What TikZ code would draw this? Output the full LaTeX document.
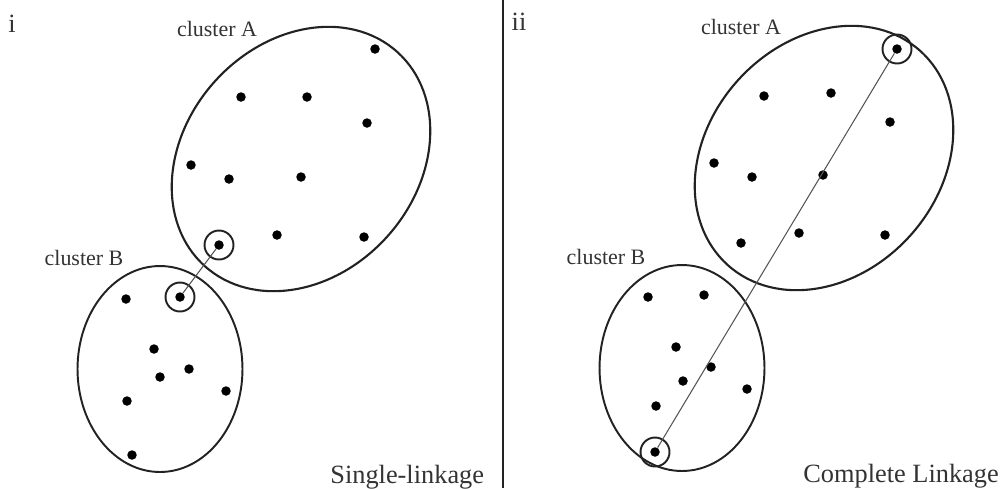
\documentclass[tikz,border=0pt]{standalone}
\usepackage{fontspec}
\setmainfont{Liberation Serif}
\usetikzlibrary{shapes.geometric}
\definecolor{inkgray}{HTML}{222222}
\definecolor{linkgray}{HTML}{555555}
\definecolor{textgray}{HTML}{333333}
\tikzset{
  dotnode/.style={
    circle, fill=black, inner sep=0pt, minimum size=0.19cm
  },
  ringnode/.style={
    circle, draw=inkgray, line width=1.1pt, inner sep=0pt,
    minimum size=0.58cm
  },
  clusterA/.style={
    ellipse, draw=inkgray, line width=1.2pt, inner sep=0pt,
    minimum width=5.76cm, minimum height=4.64cm, rotate=48
  },
  clusterB/.style={
    ellipse, draw=inkgray, line width=1.1pt, inner sep=0pt,
    minimum width=3.3cm, minimum height=4.12cm
  },
  clusterlabel/.style={
    font=\fontsize{12.5}{14}\selectfont, text=textgray, inner sep=0pt
  },
  methodlabel/.style={
    font=\fontsize{15}{18}\selectfont, text=textgray, inner sep=0pt,
    anchor=base west
  },
  panellabel/.style={
    font=\fontsize{15}{18}\selectfont, text=textgray, inner sep=0pt
  },
  linkline/.style={line width=0.6pt, draw=linkgray},
}

\begin{document}
\begin{tikzpicture}[x=0.02cm, y=-0.02cm]
  \useasboundingbox (0,0) rectangle (1003,488);

  % Panel i: single linkage
  \node[panellabel] (numi) at (12,24) {i};
  \node[clusterA] (sA) at (301,159) {};
  \node[clusterB] (sB) at (160,369) {};
  \node[clusterlabel] (sAlab) at (217,29) {cluster A};
  \node[clusterlabel] (sBlab) at (84,258) {cluster B};
  \foreach \n/\x/\y in {sa0/219/245, sa1/375/49, sa2/241/97, sa3/307/97,
      sa4/367/123, sa5/191/165, sa6/229/179, sa7/301/177, sa8/277/235,
      sa9/364/237}
    \node[dotnode] (\n) at (\x,\y) {};
  \foreach \n/\x/\y in {sb0/180/297, sb1/126/299, sb2/154/349, sb3/189/369,
      sb4/160/377, sb5/226/391, sb6/127/401, sb7/132/455}
    \node[dotnode] (\n) at (\x,\y) {};
  \node[ringnode] (saring) at (sa0) {};
  \node[ringnode] (sbring) at (sb0) {};
  \draw[linkline] (sa0) -- (sb0);
  \node[methodlabel] (single) at (330,483) {Single-linkage};

  % Divider
  \coordinate (divtop) at (503,0);
  \coordinate (divbot) at (503,488);
  \draw[line width=1.4pt, inkgray] (divtop) -- (divbot);

  % Panel ii: complete linkage
  \node[panellabel] (numii) at (519,22) {ii};
  \node[clusterA] (cA) at (824,158) {};
  \node[clusterB] (cB) at (682,368) {};
  \node[clusterlabel] (cAlab) at (741,27) {cluster A};
  \node[clusterlabel] (cBlab) at (606,257) {cluster B};
  \foreach \n/\x/\y in {ca0/897/49, ca1/764/96, ca2/831/93, ca3/890/122,
      ca4/714/163, ca5/752/177, ca6/823/175, ca7/741/243, ca8/799/233,
      ca9/885/235}
    \node[dotnode] (\n) at (\x,\y) {};
  \foreach \n/\x/\y in {cb0/655/452, cb1/648/297, cb2/704/295, cb3/676/347,
      cb4/711/367, cb5/683/381, cb6/747/389, cb7/656/406}
    \node[dotnode] (\n) at (\x,\y) {};
  \node[ringnode] (caring) at (ca0) {};
  \node[ringnode] (cbring) at (cb0) {};
  \draw[linkline] (ca0) -- (cb0);
  \node[methodlabel] (complete) at (803,482) {Complete Linkage};
\end{tikzpicture}
\end{document}
